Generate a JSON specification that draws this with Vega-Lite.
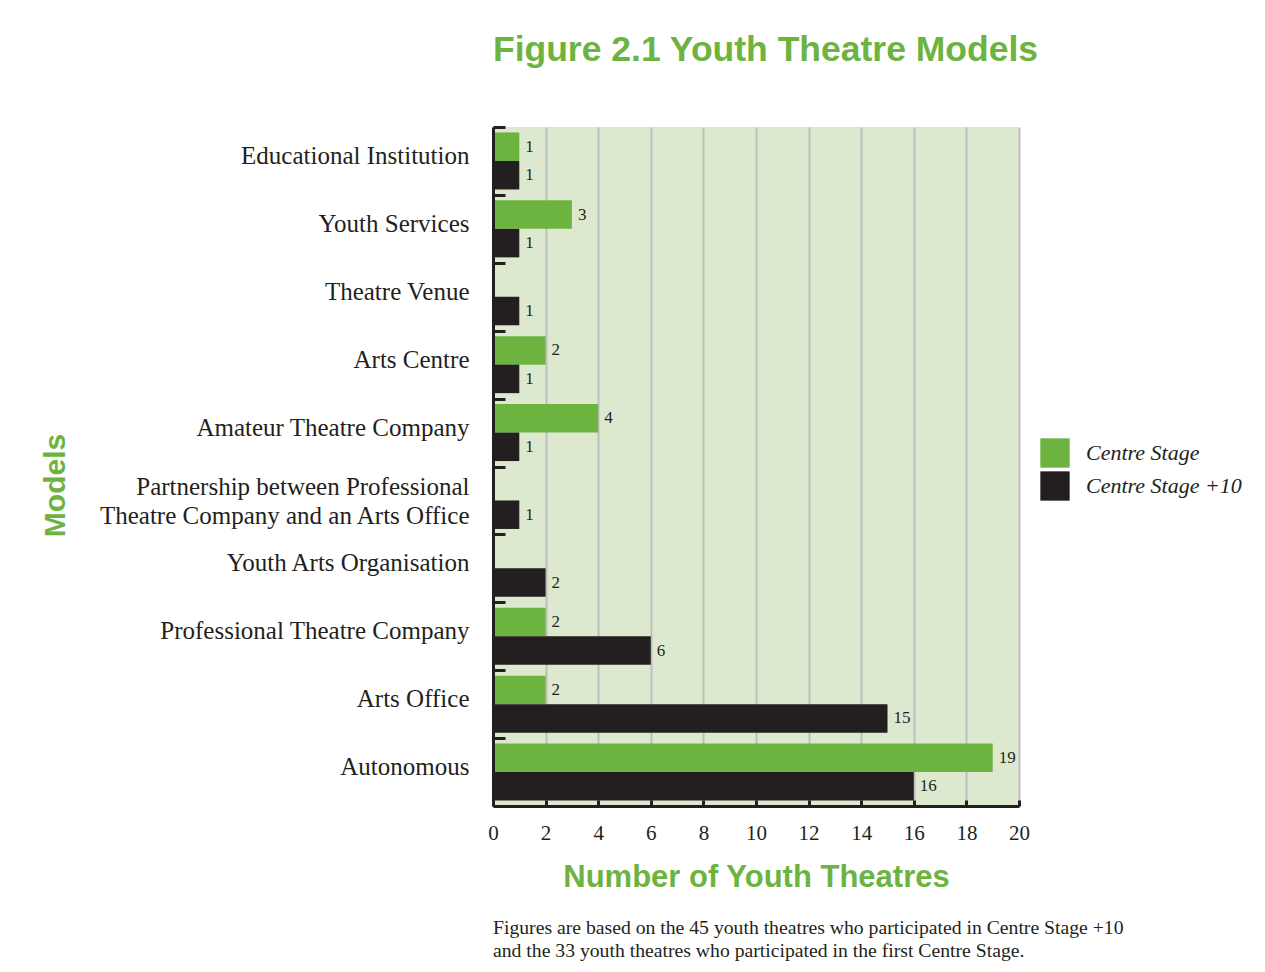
{
  "$schema": "https://vega.github.io/schema/vega-lite/v6.json",
  "width": 526,
  "height": 679,
  "padding": {"left": 40, "top": 32, "right": 10, "bottom": 5},
  "background": "#ffffff",
  "title": {
    "text": ["Figures are based on the 45 youth theatres who participated in Centre Stage +10", "and the 33 youth theatres who participated in the first Centre Stage."],
    "orient": "bottom",
    "anchor": "start",
    "frame": "group",
    "font": "Liberation Serif",
    "fontSize": 19.7,
    "fontWeight": "normal",
    "color": "#231f20",
    "lineHeight": 23,
    "offset": 26
  },
  "data": {
    "values": [
      {"model": "Educational Institution", "series": "Centre Stage", "value": 1},
      {"model": "Educational Institution", "series": "Centre Stage +10", "value": 1},
      {"model": "Youth Services", "series": "Centre Stage", "value": 3},
      {"model": "Youth Services", "series": "Centre Stage +10", "value": 1},
      {"model": "Theatre Venue", "series": "Centre Stage +10", "value": 1},
      {"model": "Arts Centre", "series": "Centre Stage", "value": 2},
      {"model": "Arts Centre", "series": "Centre Stage +10", "value": 1},
      {"model": "Amateur Theatre Company", "series": "Centre Stage", "value": 4},
      {"model": "Amateur Theatre Company", "series": "Centre Stage +10", "value": 1},
      {"model": "Partnership between Professional Theatre Company and an Arts Office", "series": "Centre Stage +10", "value": 1},
      {"model": "Youth Arts Organisation", "series": "Centre Stage +10", "value": 2},
      {"model": "Professional Theatre Company", "series": "Centre Stage", "value": 2},
      {"model": "Professional Theatre Company", "series": "Centre Stage +10", "value": 6},
      {"model": "Arts Office", "series": "Centre Stage", "value": 2},
      {"model": "Arts Office", "series": "Centre Stage +10", "value": 15},
      {"model": "Autonomous", "series": "Centre Stage", "value": 19},
      {"model": "Autonomous", "series": "Centre Stage +10", "value": 16}
    ]
  },
  "encoding": {
    "y": {
      "field": "model",
      "type": "nominal",
      "sort": ["Educational Institution", "Youth Services", "Theatre Venue", "Arts Centre", "Amateur Theatre Company", "Partnership between Professional Theatre Company and an Arts Office", "Youth Arts Organisation", "Professional Theatre Company", "Arts Office", "Autonomous"],
      "scale": {"paddingInner": 0.16, "paddingOuter": 0.08},
      "axis": {
        "zindex": 2,
        "title": "Models",
        "titleFont": "Liberation Sans",
        "titleFontSize": 30,
        "titleFontWeight": "bold",
        "titleColor": "#6cb33f",
        "titleX": -438,
        "titleY": 358,
        "titleAngle": 270,
        "titleAlign": "center",
        "titleBaseline": "middle",
        "labelFont": "Liberation Serif",
        "labelFontSize": 25,
        "labelColor": "#231f20",
        "labelPadding": 36,
        "labelLimit": 500,
        "labelLineHeight": 29,
        "bandPosition": 0,
        "tickOffset": -5.4,
        "labelOffset": {"condition": {"test": "datum.value == 'Partnership between Professional Theatre Company and an Arts Office'", "value": -9}, "value": 0},
        "labelExpr": "datum.value == 'Partnership between Professional Theatre Company and an Arts Office' ? ['Partnership between Professional', 'Theatre Company and an Arts Office'] : datum.label",
        "tickSize": -12,
        "tickWidth": 3,
        "tickColor": "#231f20",
        "domainColor": "#231f20",
        "domainWidth": 3,
        "grid": false
      }
    },
    "yOffset": {
      "field": "series",
      "type": "nominal",
      "scale": {"domain": ["Centre Stage", "Centre Stage +10"], "paddingInner": 0, "paddingOuter": 0}
    }
  },
  "layer": [
    {
      "mark": {"type": "bar"},
      "encoding": {
        "x": {
          "field": "value",
          "type": "quantitative",
          "scale": {"domain": [0, 20], "nice": false},
          "axis": {
            "orient": "bottom",
            "zindex": 0,
            "values": [0, 2, 4, 6, 8, 10, 12, 14, 16, 18, 20],
            "title": "Number of Youth Theatres",
            "titleFont": "Liberation Sans",
            "titleFontSize": 31,
            "titleFontWeight": "bold",
            "titleColor": "#6cb33f",
            "titlePadding": 19,
            "labelFont": "Liberation Serif",
            "labelFontSize": 21,
            "labelColor": "#231f20",
            "labelPadding": 22,
            "labelFlush": false,
            "grid": true,
            "gridColor": "#bdbdbd",
            "gridWidth": 2,
            "tickSize": -6,
            "tickWidth": 3,
            "tickColor": "#231f20",
            "domainColor": "#231f20",
            "domainWidth": 3
          }
        },
        "color": {
          "field": "series",
          "type": "nominal",
          "scale": {"domain": ["Centre Stage", "Centre Stage +10"], "range": ["#6cb33f", "#231f20"]},
          "legend": {
            "title": null,
            "orient": "none",
            "legendX": 547,
            "legendY": 311,
            "symbolType": "square",
            "symbolSize": 860,
            "symbolStrokeWidth": 0,
            "symbolOpacity": 1,
            "rowPadding": 3,
            "labelFont": "Liberation Serif",
            "labelFontStyle": "italic",
            "labelFontSize": 22,
            "labelColor": "#231f20",
            "labelOffset": 16,
            "labelLimit": 300
          }
        }
      }
    },
    {
      "mark": {"type": "text", "align": "left", "baseline": "middle", "dx": 6, "font": "Liberation Serif", "fontSize": 17, "color": "#231f20"},
      "encoding": {
        "x": {
          "field": "value",
          "type": "quantitative",
          "axis": {
            "orient": "top",
            "title": "Figure 2.1  Youth Theatre Models",
            "titleFont": "Liberation Sans",
            "titleFontSize": 35.5,
            "titleFontWeight": "bold",
            "titleColor": "#6cb33f",
            "titlePadding": 60,
            "titleX": 272,
            "titleAlign": "center",
            "labels": false,
            "ticks": false,
            "domain": false,
            "grid": false
          }
        },
        "text": {"field": "value", "type": "quantitative"}
      }
    }
  ],
  "resolve": {"axis": {"x": "independent"}},
  "config": {
    "view": {"fill": "#dde9cf", "stroke": null}
  }
}
